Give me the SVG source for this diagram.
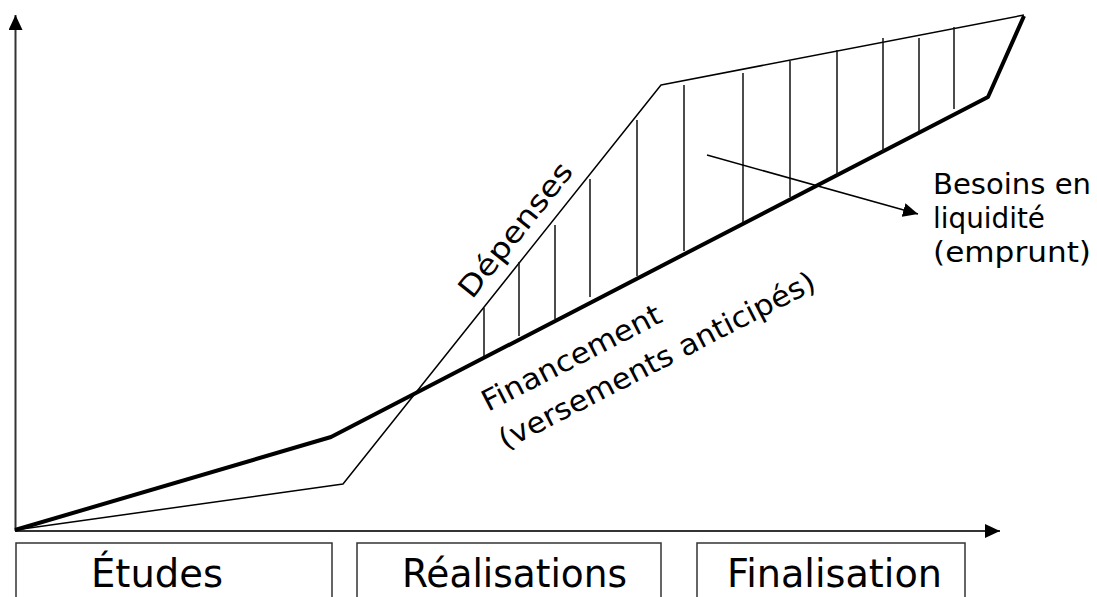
<svg xmlns="http://www.w3.org/2000/svg" width="1097" height="597" viewBox="0 0 1097 597">
<style>
.lbl{font-family:"DejaVu Sans","Liberation Sans",sans-serif;font-size:29px;fill:#000}
.big{font-family:"DejaVu Sans","Liberation Sans",sans-serif;font-size:39px;fill:#000}
.box{fill:#fff;stroke:#333;stroke-width:1.5}
.axis{fill:none;stroke:#333;stroke-width:2}
.thin{fill:none;stroke:#000;stroke-width:1.5;stroke-linejoin:round}
.thick{fill:none;stroke:#000;stroke-width:4;stroke-linejoin:round}
.hatch{stroke:#111;stroke-width:1.5}
</style>
<defs>
<marker id="arr" markerUnits="userSpaceOnUse" markerWidth="15" markerHeight="14" refX="15" refY="7" orient="auto">
<path d="M0,0 L15,7 L0,14 z" fill="#000"/>
</marker>
</defs>
<rect width="1097" height="597" fill="#fff"/>
<g id="connectors">
<line class="axis" x1="15.5" y1="531" x2="15.5" y2="15" marker-end="url(#arr)"/>
<line class="axis" x1="15" y1="531" x2="1000" y2="531" marker-end="url(#arr)"/>
<polyline id="depenses" class="thin" points="15,530 343,484 661,85 1024,15"/>
<polyline id="financement" class="thick" points="15,530 331,437 988,97 1024,16"/>
<g id="hatches">
<line class="hatch" x1="484" y1="308" x2="484" y2="356"/>
<line class="hatch" x1="519" y1="262" x2="519" y2="336"/>
<line class="hatch" x1="555" y1="225" x2="555" y2="319"/>
<line class="hatch" x1="590" y1="179" x2="590" y2="297"/>
<line class="hatch" x1="637" y1="120" x2="637" y2="276"/>
<line class="hatch" x1="684" y1="85" x2="684" y2="251"/>
<line class="hatch" x1="743" y1="73" x2="743" y2="222"/>
<line class="hatch" x1="790" y1="61" x2="790" y2="197"/>
<line class="hatch" x1="837" y1="50" x2="837" y2="176"/>
<line class="hatch" x1="883" y1="38" x2="883" y2="152"/>
<line class="hatch" x1="919" y1="38" x2="919" y2="131"/>
<line class="hatch" x1="954" y1="27" x2="954" y2="109"/>
</g>
<line id="callout" class="thin" x1="707" y1="155" x2="918" y2="214" marker-end="url(#arr)"/>
</g>
<g id="label-depenses">
<text class="lbl" transform="translate(472,300) rotate(-51.4)" textLength="164" lengthAdjust="spacingAndGlyphs">Dépenses</text>
</g>
<g id="label-financement">
<text class="lbl" transform="translate(488,412) rotate(-27.3)" textLength="198" lengthAdjust="spacingAndGlyphs">Financement</text>
<text class="lbl" transform="translate(505,450) rotate(-27.3)" textLength="352" lengthAdjust="spacingAndGlyphs">(versements anticipés)</text>
</g>
<g id="label-besoins">
<text class="lbl" x="933" y="194" textLength="158" lengthAdjust="spacingAndGlyphs">Besoins en</text>
<text class="lbl" x="933" y="228" textLength="112" lengthAdjust="spacingAndGlyphs">liquidité</text>
<text class="lbl" x="933" y="262" textLength="158" lengthAdjust="spacingAndGlyphs">(emprunt)</text>
</g>
<g id="box-etudes">
<rect class="box" x="16" y="543" width="316" height="70"/>
<text class="big" x="91" y="587" textLength="132" lengthAdjust="spacingAndGlyphs">Études</text>
</g>
<g id="box-realisations">
<rect class="box" x="357" y="543" width="304" height="70"/>
<text class="big" x="402" y="587" textLength="225" lengthAdjust="spacingAndGlyphs">Réalisations</text>
</g>
<g id="box-finalisation">
<rect class="box" x="697" y="543" width="268" height="70"/>
<text class="big" x="727" y="587" textLength="215" lengthAdjust="spacingAndGlyphs">Finalisation</text>
</g>
</svg>
